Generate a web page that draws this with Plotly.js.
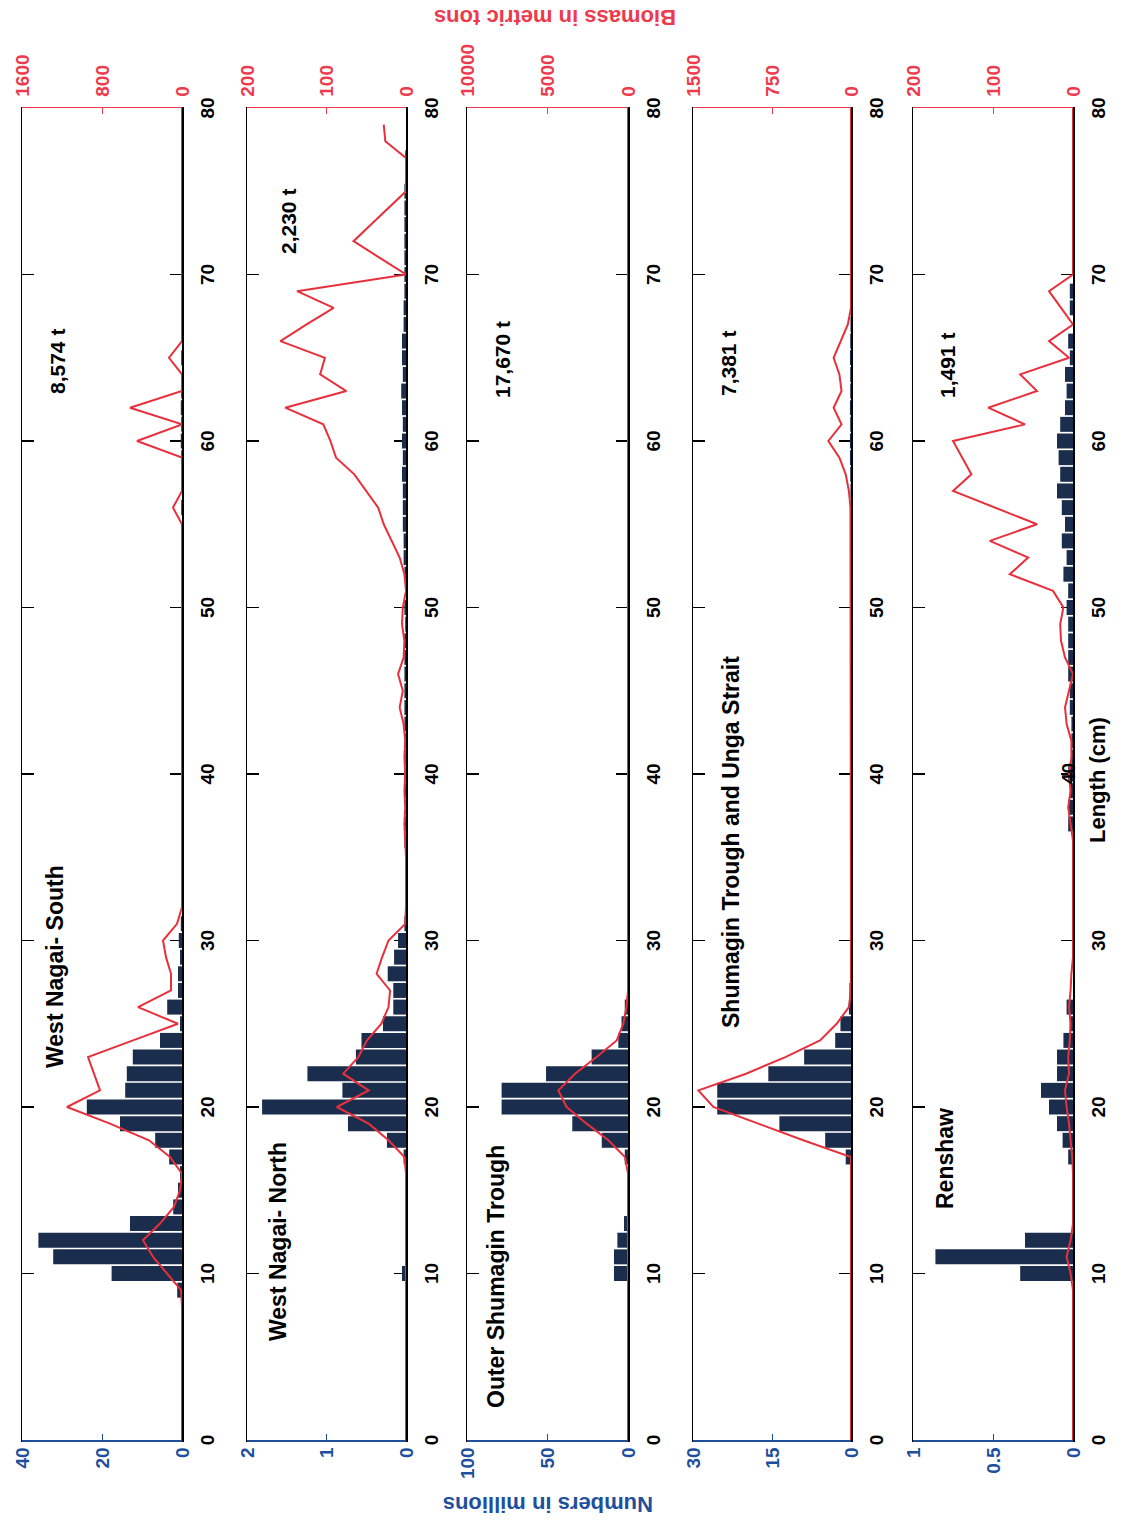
<!DOCTYPE html>
<html>
<head>
<meta charset="utf-8">
<script src="https://cdn.plot.ly/plotly-3.0.1.min.js"></script>
<style>
html,body{margin:0;padding:0;background:#fff;overflow:hidden;width:1137px;height:1527px;}
#wrap{position:absolute;left:0;top:0;width:1527px;height:1137px;transform-origin:0 0;}
</style>
</head>
<body>
<div id="wrap"></div>
<script>
// ---------------- DATA ----------------
// Length classes (cm), 0..80
const lengthBins = Array.from({length: 81}, (_, i) => i);

const panelNames = ["West Nagai- South", "West Nagai- North", "Outer Shumagin Trough", "Shumagin Trough and Unga Strait", "Renshaw"];
const panelTotals = ["8,574 t", "2,230 t", "17,670 t", "7,381 t", "1,491 t"];

// Numbers in millions by length
const numSouth = [
  0,0,0,0,0,0,0,0,0,1.2,
  17.6,32.2,35.9,13.0,2.2,1.0,0.5,3.2,6.7,15.5,
  23.8,14.2,13.8,12.3,5.5,0.5,3.7,1.0,1.0,0.5,
  0.8,0.3,0,0,0,0,0,0,0,0,
  0,0,0,0,0,0,0,0,0,0,
  0,0,0,0,0,0,0.2,0,0,0.2,
  0.3,0.2,0.3,0.2,0,0.2,0,0,0,0,
  0,0,0,0,0,0,0,0,0,0,
  0];
const numNorth = [
  0,0,0,0,0,0,0,0,0,0,
  0.05,0,0,0,0,0,0,0.03,0.24,0.73,
  1.81,0.80,1.24,0.63,0.56,0.29,0.16,0.16,0.23,0.15,
  0.10,0.02,0,0,0,0,0.02,0.02,0.01,0.02,
  0.02,0.01,0.02,0.02,0.02,0.02,0.02,0.02,0.02,0.01,
  0.02,0,0.02,0.03,0.03,0.04,0.04,0.04,0.05,0.04,
  0.05,0.04,0.05,0.06,0.04,0.05,0.05,0.03,0.03,0.02,
  0.02,0.02,0.02,0.02,0.02,0.02,0.01,0.01,0,0,
  0];
const numOuter = [
  0,0,0,0,0,0,0,0,0,0,
  8.7,8.7,6.6,2.5,0,0,0,2,16.3,34.6,
  78.5,78.5,50.9,22.6,6,4,2,0.5,0,0,
  0,0,0,0,0,0,0,0,0,0,
  0,0,0,0,0,0,0,0,0,0,
  0,0,0,0,0,0,0,0,0,0,
  0,0,0,0,0,0,0,0,0,0,
  0,0,0,0,0,0,0,0,0,0,
  0];
const numShumagin = [
  0,0,0,0,0,0,0,0,0,0,
  0,0,0,0,0,0,0,1.0,4.9,13.6,
  25.4,25.4,15.7,8.9,3.0,2.0,0.4,0.3,0.1,0,
  0,0,0,0,0,0,0,0,0,0,
  0,0,0,0,0,0,0,0,0,0,
  0,0.1,0.1,0.15,0.1,0.15,0.1,0.1,0.15,0.2,
  0.2,0.15,0.2,0.15,0.15,0.2,0.15,0.1,0.1,0.1,
  0,0,0,0,0,0,0,0,0,0,
  0];
const numRenshaw = [
  0,0,0,0,0,0,0,0,0,0,
  0.33,0.86,0.30,0,0,0,0,0.03,0.065,0.10,
  0.15,0.20,0.10,0.10,0.06,0.02,0.04,0,0,0,
  0,0,0,0,0,0,0,0.03,0.03,0.02,
  0.03,0.01,0.01,0.01,0.02,0.02,0.03,0.03,0.03,0.03,
  0.04,0.03,0.06,0.04,0.07,0.05,0.07,0.10,0.08,0.09,
  0.10,0.08,0.05,0.04,0.05,0.02,0.03,0,0.02,0.02,
  0,0,0,0,0,0,0,0,0,0,
  0];

// Biomass in metric tons by length
const bioSouth = [
  0,0,0,0,0,0,0,0,0,10,
  150,290,390,220,80,20,0,120,330,720,
  1150,820,880,940,490,40,440,110,110,160,
  190,50,0,0,0,0,0,0,0,0,
  0,0,0,0,0,0,0,0,0,0,
  0,0,0,0,0,0,90,0,0,0,
  450,0,520,0,0,130,0,0,0,0,
  0,0,0,0,0,0,0,0,0,0,
  0];
const bioNorth = [
  0,0,0,0,0,0,0,0,0,0,
  0,0,0,0,0,0,0,2,22,47,
  87,47,79,60,49,31,22,20,37,30,
  22,1,0,0,0,0,1,2,1,2,
  1,2,1,3,8,4,10,3,2,5,
  4,0,2,8,18,28,35,50,65,88,
  95,104,152,75,108,102,158,125,91,137,
  0,33,66,44,22,0,0,0,26,28,
  null];
const bioOuter = [
  0,0,0,0,0,0,0,0,0,0,
  30,40,40,20,0,0,0,190,1220,2570,
  3810,4330,3290,1950,700,290,100,0,0,0,
  0,0,0,0,0,0,0,0,0,0,
  0,0,0,0,0,0,0,0,0,0,
  0,0,0,0,0,0,0,0,0,0,
  0,0,0,0,0,0,0,0,0,0,
  0,0,0,0,0,0,0,0,0,0,
  0];
const bioShumagin = [
  0,0,0,0,0,0,0,0,0,0,
  0,0,0,0,0,0,0,0,453,880,
  1307,1449,996,623,294,136,20,0,0,0,
  0,0,0,0,0,0,0,0,0,0,
  0,0,0,0,0,0,0,0,0,0,
  0,0,0,0,0,0,5,20,50,110,
  215,90,165,90,110,165,100,30,0,0,
  0,0,0,0,0,0,0,0,0,0,
  0];
const bioRenshaw = [
  0,0,0,0,0,0,0,0,0,0,
  3,8,3,0,0,0,0,1,3,5,
  8,10,5,6,4,3,5,3,2,0,
  0,0,0,0,0,0,0,3,6,3,
  5,2,2,8,10,5,0,10,15,16,
  12,25,79,56,104,45,98,150,127,138,
  150,60,106,45,66,5,30,0,15,30,
  0,0,0,0,0,0,0,0,0,0,
  0];

// Axis ranges and tick labels
const numMax = [40, 2, 100, 30, 1];
const numTickVals = [[0,20,40],[0,1,2],[0,50,100],[0,15,30],[0,0.5,1]];
const numTickText = [["0","20","40"],["0","1","2"],["0","50","100"],["0","15","30"],["0","0.5","1"]];
const bioMax = [1600, 200, 10000, 1500, 200];
const bioTickVals = [[0,800,1600],[0,100,200],[0,5000,10000],[0,750,1500],[0,100,200]];
const bioTickText = [["0","800","1600"],["0","100","200"],["0","5000","10000"],["0","750","1500"],["0","100","200"]];
const lengthTicks = [0,10,20,30,40,50,60,70,80];
const lengthTickText = ["0","10","20","30","40","50","60","70","80"];
// bottom panel: the "40" label sits raised above the axis title
const lengthTickTextBottom = ["0","10","20","30","","50","60","70","80"];
const raisedTickValue = 40;

const numSeries = [numSouth, numNorth, numOuter, numShumagin, numRenshaw];
const bioSeries = [bioSouth, bioNorth, bioOuter, bioShumagin, bioRenshaw];

// ---------------- LAYOUT ----------------
const W = 1527, H = 1137;
const px = x => x / W;
const py = y => 1 - y / H;
const FONT = '"Liberation Sans", Arial, sans-serif';
const BLUE = '#1f4f9c', RED = '#ee3a4c', NAVY = '#1b2d4c', LINE = '#e8303c';

const panelBox = [[22,182],[247,406],[467,628],[693,851],[913,1073]];
const titlePos = [[560,55],[285,278],[250,496],[685,731],[368,945]];
const totalPos = [[1165,57],[1305,289],[1167,502],[1163,728],[1161,947]];

const traces = [];
const layout = {
  width: W, height: H,
  margin: {l:0, r:0, t:0, b:0},
  paper_bgcolor: '#fff', plot_bgcolor: 'rgba(0,0,0,0)',
  showlegend: false,
  bargap: 0.1,
  font: {family: FONT, size: 19, color: '#000'},
  annotations: []
};

for (let i = 0; i < 5; i++) {
  const k = i + 1, kb = i + 6;
  const sfx = k === 1 ? '' : String(k);
  const xa = 'xaxis' + sfx;
  const ya = 'yaxis' + sfx;
  const yb = 'yaxis' + kb;
  const [top, bot] = panelBox[i];
  layout[xa] = {
    domain: [px(87), px(1419)], range: [0, 80], anchor: 'y' + sfx,
    tickvals: lengthTicks, ticktext: (i === 4 ? lengthTickTextBottom : lengthTickText),
    ticks: 'inside', ticklen: 12, tickwidth: 1.2, tickcolor: '#000',
    showline: true, linecolor: '#000', linewidth: 1.5, mirror: 'ticks',
    layer: 'below traces',
    showgrid: false, zeroline: false, ticklabelstandoff: 8,
    tickfont: {family: FONT, size: 19, color: '#000', weight: 'bold'}
  };
  layout[ya] = {
    domain: [py(bot), py(top)], range: [0, numMax[i]], anchor: 'x' + sfx,
    tickvals: numTickVals[i], ticktext: numTickText[i],
    ticks: 'inside', ticklen: 6, tickcolor: BLUE,
    showline: true, linecolor: BLUE, linewidth: 1.5,
    showgrid: false, zeroline: false, ticklabelstandoff: 2,
    tickfont: {family: FONT, size: 19, color: BLUE, weight: 'bold'}
  };
  layout[yb] = {
    overlaying: 'y' + sfx, side: 'right', anchor: 'x' + sfx,
    range: [0, bioMax[i]], tickvals: bioTickVals[i], ticktext: bioTickText[i],
    ticks: 'inside', ticklen: 6, tickcolor: RED,
    showline: true, linecolor: RED, linewidth: 1.5,
    showgrid: false, zeroline: false, ticklabelstandoff: 6,
    tickfont: {family: FONT, size: 19, color: RED, weight: 'bold'}
  };
  traces.push({
    type: 'bar', x: lengthBins, y: numSeries[i],
    xaxis: 'x' + sfx, yaxis: 'y' + sfx,
    marker: {color: NAVY, line: {width: 0}}, hoverinfo: 'x+y'
  });
  traces.push({
    type: 'scatter', mode: 'lines', x: lengthBins, y: bioSeries[i],
    xaxis: 'x' + sfx, yaxis: 'y' + kb,
    line: {color: LINE, width: 2}, connectgaps: false, hoverinfo: 'x+y'
  });
  layout.annotations.push({
    xref: 'paper', yref: 'paper', x: px(titlePos[i][0]), y: py(titlePos[i][1]),
    xanchor: 'center', yanchor: 'middle', showarrow: false, text: panelNames[i],
    font: {family: FONT, size: 23, color: '#000', weight: 'bold'}
  });
  layout.annotations.push({
    xref: 'paper', yref: 'paper', x: px(totalPos[i][0]), y: py(totalPos[i][1]),
    xanchor: 'center', yanchor: 'middle', showarrow: false, text: panelTotals[i],
    font: {family: FONT, size: 21, color: '#000', weight: 'bold'}
  });
}

// raised "40" tick label of the bottom panel
layout.annotations.push({
  xref: 'x5', yref: 'paper', x: raisedTickValue, y: py(1068),
  xanchor: 'center', yanchor: 'middle', showarrow: false, text: String(raisedTickValue),
  font: {family: FONT, size: 19, color: '#000', weight: 'bold'}
});

layout.annotations.push({
  xref: 'paper', yref: 'paper', x: px(22), y: py(548), textangle: -90,
  xanchor: 'center', yanchor: 'middle', showarrow: false, text: 'Numbers in millions',
  font: {family: FONT, size: 22, color: BLUE, weight: 'bold'}
});
layout.annotations.push({
  xref: 'paper', yref: 'paper', x: px(1509), y: py(555), textangle: -90,
  xanchor: 'center', yanchor: 'middle', showarrow: false, text: 'Biomass in metric tons',
  font: {family: FONT, size: 22, color: RED, weight: 'bold'}
});
layout.annotations.push({
  xref: 'paper', yref: 'paper', x: px(747), y: py(1097),
  xanchor: 'center', yanchor: 'middle', showarrow: false, text: 'Length (cm)',
  font: {family: FONT, size: 22, color: '#000', weight: 'bold'}
});

const wrap = document.getElementById('wrap');
Plotly.newPlot(wrap, traces, layout, {staticPlot: true, displayModeBar: false}).then(() => {
  // The figure is printed rotated a quarter turn counter-clockwise on the page
  wrap.style.transform = 'translate(0px, 1527px) rotate(-90deg)';
});
</script>
</body>
</html>
